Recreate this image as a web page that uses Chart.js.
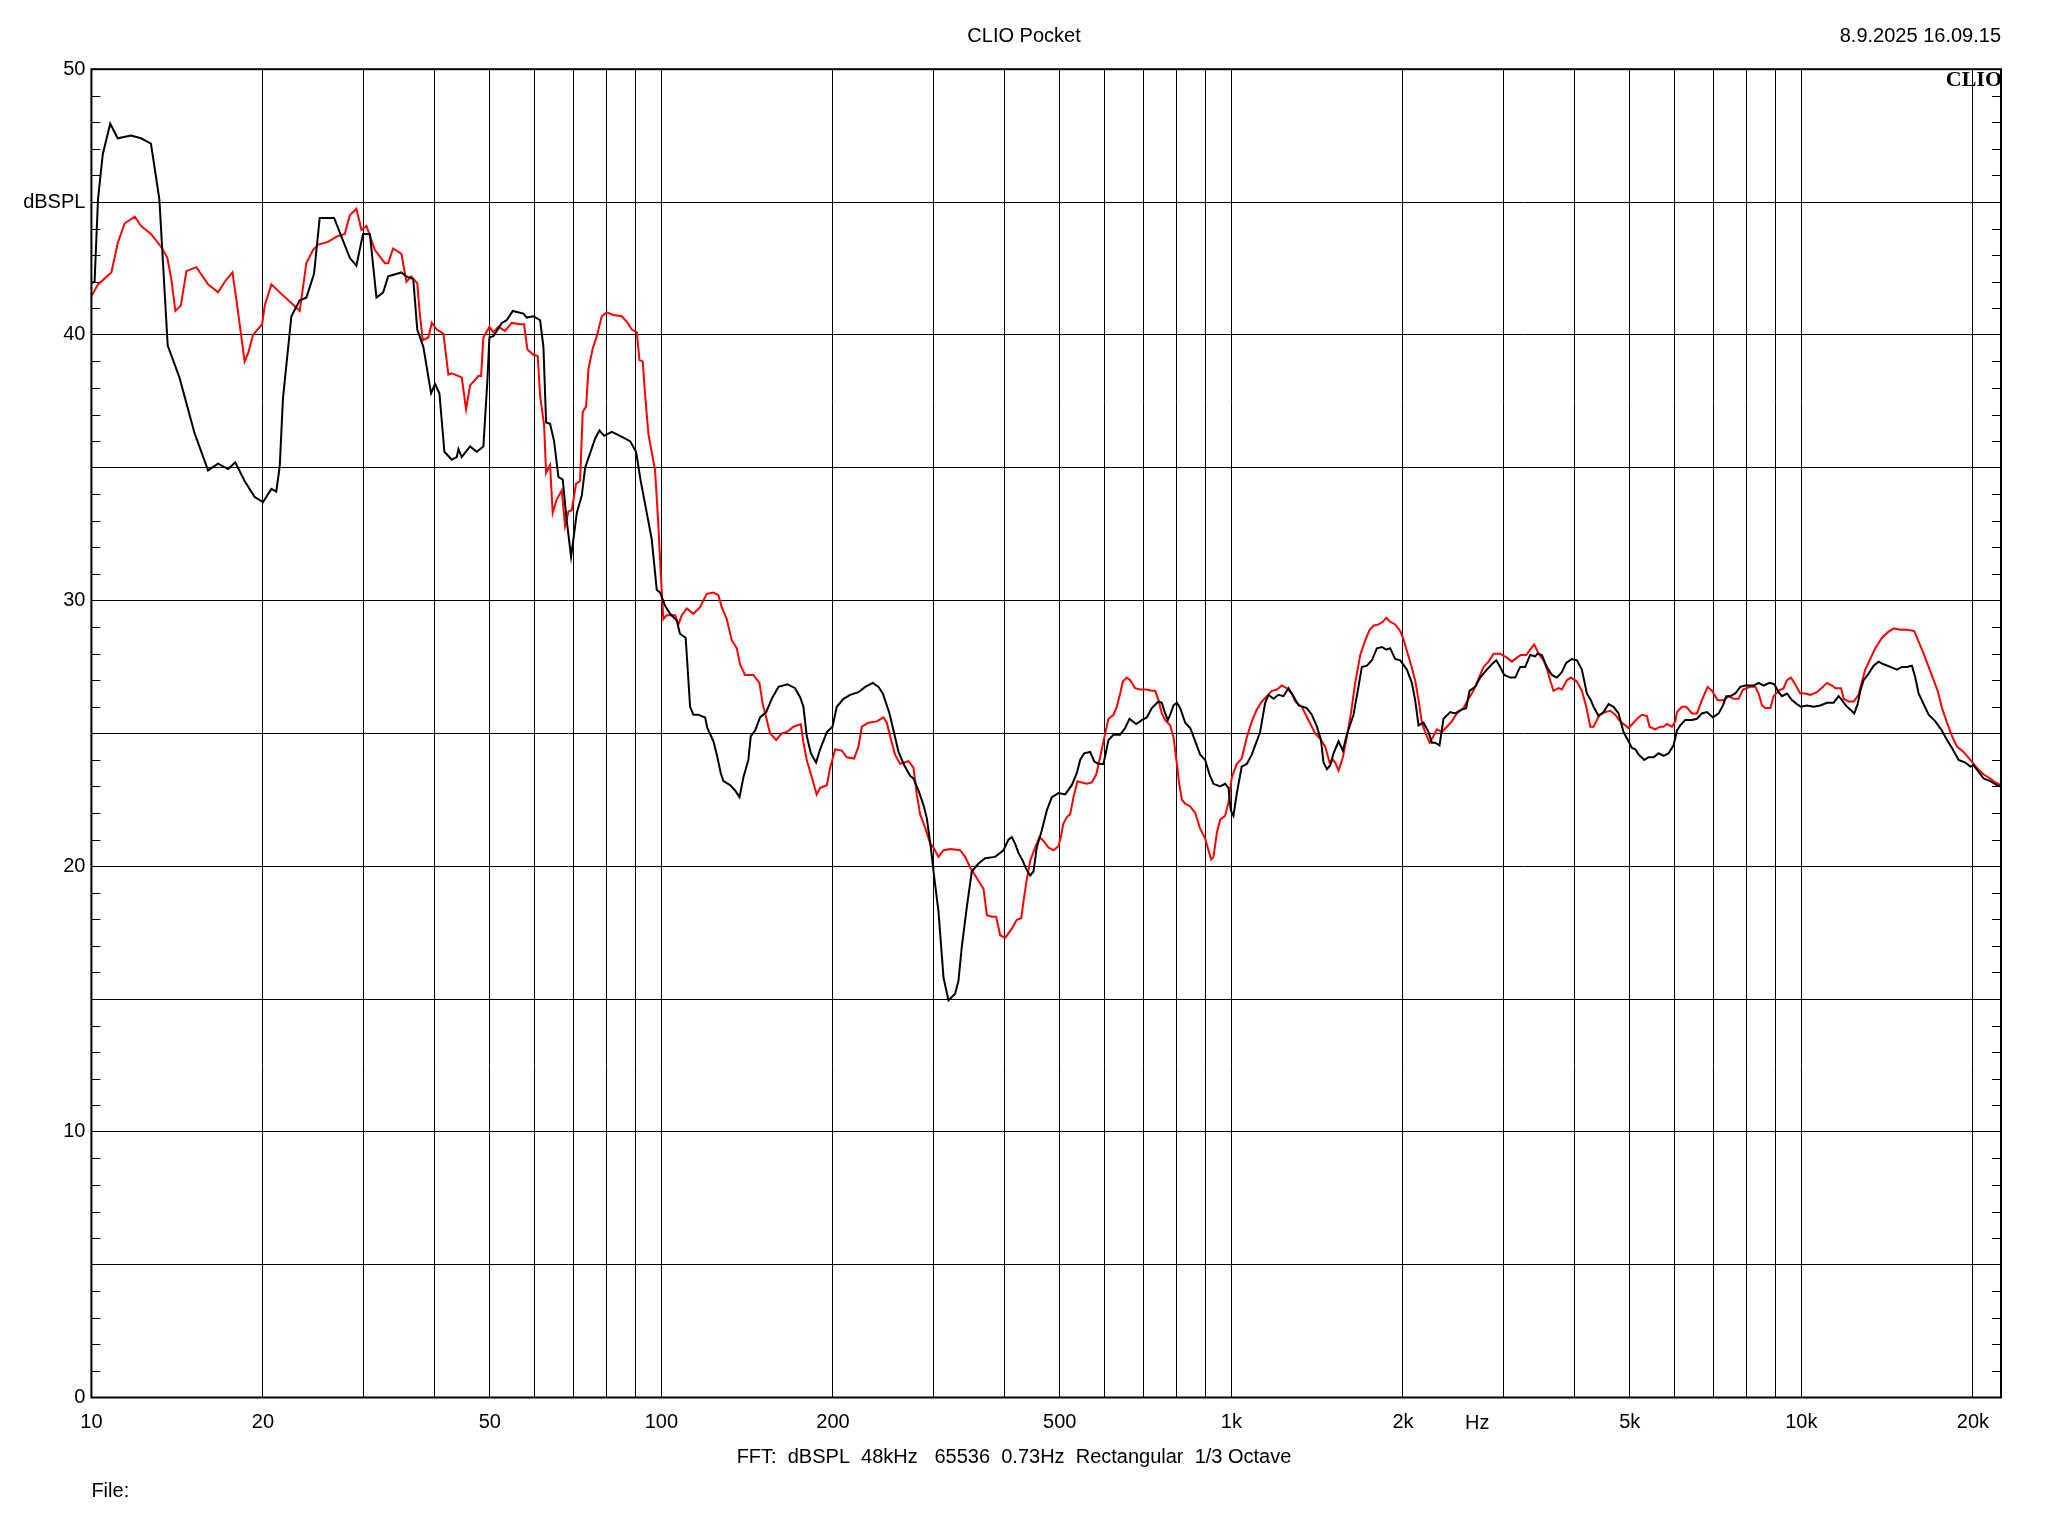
<!DOCTYPE html>
<html>
<head>
<meta charset="utf-8">
<script src="https://cdn.jsdelivr.net/npm/chart.js@4/dist/chart.umd.min.js"></script>
<style>
  html, body { margin: 0; padding: 0; background: #ffffff; }
  canvas { display: block; }
</style>
</head>
<body>
<canvas id="c" width="2048" height="1536" style="width:2048px;height:1536px"></canvas>
<script>
// ---------------- DATA ----------------
const blackHz = [10.0,10.13,10.27,10.47,10.79,11.12,11.74,12.22,12.72,13.16,13.61,14.27,15.17,16.02,16.68,17.37,17.88,18.57,19.34,20.0,20.69,21.1,21.4,21.68,22.43,23.2,23.83,24.58,25.15,26.66,27.46,28.4,29.17,29.96,30.8,31.63,32.5,33.16,34.99,35.7,36.7,37.3,38.23,39.44,40.08,40.79,41.62,42.87,43.75,44.05,44.64,46.17,47.42,48.72,49.52,49.92,50.73,52.47,53.54,54.85,57.27,58.05,59.64,61.27,62.09,62.77,63.78,64.82,65.97,67.13,68.23,69.43,70.28,71.05,72.5,73.49,74.99,76.52,77.88,79.36,81.85,84.63,88.12,90.28,91.99,94.26,96.18,98.15,99.48,101.5,103.6,106.4,107.8,110.3,111.3,112.3,113.8,116.1,119.3,120.4,123.4,125.4,127.1,128.5,132.0,134.7,137.1,139.3,142.1,143.5,146.0,149.0,152.7,156.2,160.5,166.4,171.6,175.2,177.5,179.9,182.9,186.8,189.9,195.1,199.6,203.1,208.7,214.4,221.7,227.8,234.9,240.4,244.6,251.3,256.1,260.6,266.7,273.2,276.9,282.5,288.3,292.2,297.0,301.0,306.3,312.6,318.9,327.6,332.1,336.5,343.4,350.4,360.0,369.8,385.0,398.2,406.3,411.9,417.4,423.1,430.6,436.4,443.6,449.6,455.6,465.0,474.5,484.2,497.4,511.0,524.8,535.6,542.9,551.7,565.2,574.4,584.6,596.5,608.7,621.2,638.1,651.1,662.6,680.7,696.5,710.6,725.1,744.9,755.1,765.3,773.7,781.0,791.6,802.4,813.3,829.9,846.9,864.2,881.7,899.5,915.3,930.3,955.6,975.2,988.3,997.7,1008.5,1022.3,1042.7,1064.2,1085.9,1123.1,1146.2,1161.6,1185.4,1209.6,1234.4,1259,1285,1312,1356,1384,1413,1436,1451,1471,1491,1511,1542,1569,1594,1638,1671,1694,1729,1764,1800,1837,1869,1899,1938,1978,2032,2073,2101,2130,2173,2218,2247,2278,2318,2356,2421,2470,2537,2582,2617,2678,2732,2807,2864,2915,2962,3011,3084,3147,3211,3277,3344,3412,3444,3505,3576,3649,3724,3800,3867,3957,4038,4120,4204,4273,4319,4408,4497,4589,4683,4778,4875,4975,5043,5113,5182,5302,5395,5505,5617,5732,5849,5968,6048,6130,6256,6427,6558,6692,6829,6997,7159,7285,7385,7505,7657,7813,7973,8246,8414,8586,8796,8964,9122,9246,9434,9627,9822,9983,10228,10507,10795,11089,11392,11625,11781,12022,12185,12383,12552,12688,12860,13122,13391,13662,13942,14322,14713,15014,15321,15631,15844,16059,16388,16723,17181,17650,18012,18376,18876,19392,19789,20055,20465,20884,21455,22040,22398];
const blackDb = [41.95,42.0,45.1,46.8,47.95,47.4,47.5,47.4,47.2,45.1,39.6,38.4,36.3,34.9,35.15,34.95,35.2,34.5,33.9,33.7,34.2,34.1,35.05,37.6,40.7,41.3,41.4,42.3,44.4,44.4,43.7,42.9,42.6,43.8,43.8,41.4,41.6,42.2,42.35,42.2,42.1,40.2,39.55,37.8,38.15,37.8,35.6,35.3,35.4,35.7,35.4,35.8,35.6,35.8,38.3,39.9,39.95,40.45,40.55,40.9,40.8,40.65,40.7,40.55,39.55,36.7,36.65,36.0,34.65,34.55,33.0,31.65,32.5,33.3,33.95,35.0,35.55,36.1,36.4,36.2,36.35,36.2,36.0,35.6,34.5,33.3,32.3,30.4,30.3,29.8,29.5,29.25,28.75,28.6,27.3,26.0,25.7,25.7,25.6,25.2,24.7,24.1,23.5,23.2,23.05,22.85,22.6,23.35,24.0,24.9,25.1,25.6,25.8,26.3,26.75,26.85,26.7,26.35,26.0,24.9,24.25,23.9,24.4,25.05,25.25,26.0,26.3,26.45,26.55,26.75,26.9,26.75,26.5,25.75,25.0,24.3,23.8,23.4,23.3,22.85,22.3,21.8,20.7,19.6,18.3,15.8,14.95,15.2,15.7,16.95,18.45,19.8,20.1,20.3,20.35,20.6,21.0,21.1,20.85,20.5,20.2,19.9,19.65,19.8,20.7,21.35,22.1,22.6,22.75,22.7,23.05,23.5,24.0,24.25,24.3,23.95,23.85,23.85,24.75,24.95,24.95,25.2,25.55,25.35,25.5,25.6,25.95,26.2,26.15,25.75,25.5,25.7,26.05,26.15,25.95,25.4,25.2,24.7,24.2,24.0,23.45,23.1,23.0,23.1,22.95,22.1,21.9,22.75,23.75,23.85,24.2,25.05,26.15,26.45,26.3,26.45,26.4,26.7,26.4,26.05,25.95,25.7,25.25,24.75,23.9,23.65,23.8,24.25,24.7,24.35,24.95,25.7,26.75,27.5,27.55,27.75,28.2,28.25,28.15,28.2,27.8,27.75,27.4,26.9,26.25,25.3,25.4,25.05,24.65,24.65,24.55,25.55,25.8,25.75,25.9,25.95,26.6,26.75,27.1,27.4,27.6,27.75,27.5,27.2,27.1,27.1,27.5,27.5,27.95,27.9,28.0,27.95,27.5,27.2,27.1,27.3,27.65,27.8,27.75,27.4,26.5,26.25,26.0,25.65,25.8,26.1,26.0,25.75,25.05,24.7,24.45,24.4,24.2,24.0,24.1,24.1,24.25,24.15,24.25,24.55,25.1,25.3,25.5,25.5,25.55,25.75,25.8,25.6,25.75,26.05,26.4,26.4,26.5,26.75,26.8,26.8,26.9,26.8,26.9,26.85,26.55,26.4,26.5,26.25,26.1,26.0,26.05,26.0,26.05,26.15,26.15,26.4,26.25,26.0,25.9,25.75,26.1,26.6,27.0,27.25,27.55,27.7,27.6,27.5,27.4,27.5,27.5,27.55,27.1,26.5,26.1,25.7,25.45,25.1,24.75,24.45,24.0,23.9,23.75,23.8,23.55,23.3,23.2,23.05,23.0];

const redHz = [10.0,10.27,10.84,11.12,11.44,11.92,12.22,12.72,13.27,13.59,13.81,14.04,14.35,14.68,15.28,16.02,16.68,17.14,17.68,17.97,18.28,18.57,18.83,19.21,19.93,20.14,20.69,21.4,22.43,23.2,23.83,24.49,24.99,26.02,26.91,27.83,28.4,29.17,29.77,30.38,31.42,32.72,33.16,33.83,34.99,35.7,36.4,37.3,37.62,38.13,39.01,39.54,40.35,41.45,42.3,42.87,44.64,45.43,46.17,47.75,48.27,48.72,49.92,50.73,51.76,53.17,54.62,56.49,57.43,58.19,59.64,60.68,61.27,62.26,62.77,63.78,64.47,65.52,66.86,67.76,68.7,69.62,70.85,72.0,72.78,73.78,74.47,75.8,77.03,78.61,80.2,82.39,85.21,86.95,88.72,90.53,91.52,92.75,93.63,94.91,97.48,98.81,99.75,100.8,102.2,105.7,107.1,108.6,110.8,113.8,116.9,120.1,123.4,125.9,127.6,130.2,132.9,135.6,137.4,140.2,145.0,148.6,150.6,152.7,155.1,159.0,162.6,166.0,170.5,175.6,177.5,179.9,183.6,187.3,189.9,195.1,197.7,201.8,207.3,211.5,217.8,221.7,224.7,230.8,238.8,245.3,248.6,252.6,257.0,262.3,271.4,276.9,280.6,284.4,290.2,296.2,300.2,306.3,312.6,321.1,334.3,341.2,348.1,360.0,367.4,372.4,379.9,386.6,393,401,412,420,428,432,437.6,443.6,452.6,460.6,468.1,477.6,487.4,497.4,502.0,507.4,514.4,521.3,528.4,537.0,546.5,557.7,569.0,579.2,587.0,592.5,600.6,608.7,621.2,629.5,638.1,644.9,655.4,664.4,677.9,691.7,710.6,725.1,735.1,744.9,755.1,765.3,781.0,791.6,802.4,810.0,818.8,829.9,846.9,864.2,881.7,899.5,911.7,921.5,930.3,943.0,955.6,975.2,988.3,1001.8,1022.3,1042.7,1064.2,1085.9,1108.5,1131.0,1154.1,1177.7,1201.8,1226.2,1251.2,1276.8,1294.2,1329,1365,1403,1431,1461,1487,1507,1521,1542,1569,1594,1621,1649,1683,1717,1748,1776,1812,1844,1869,1899,1938,1978,2004,2032,2065,2101,2130,2159,2188,2227,2257,2294,2341,2388,2437,2486,2554,2606,2659,2714,2769,2826,2884,2962,3043,3105,3169,3220,3291,3344,3399,3459,3530,3576,3625,3674,3750,3800,3878,3941,4038,4120,4194,4262,4319,4425,4528,4620,4714,4810,4975,5077,5180,5252,5358,5416,5541,5655,5732,5810,5929,6010,6048,6174,6283,6427,6558,6692,6847,6968,7129,7305,7454,7606,7762,7899,8136,8302,8414,8529,8645,8822,8942,9122,9310,9434,9588,9719,9956,10160,10366,10649,10911,11089,11319,11472,11739,11865,12106,12354,12604,12774,12947,13178,13481,13850,14171,14519,14916,15321,15784,16059,16388,16723,17066,17343,17650,18012,18376,18750,19262,19789,20330,20884,21455,21890,22398];
const redDb = [41.45,41.9,42.35,43.45,44.2,44.45,44.1,43.8,43.3,42.9,42.1,40.9,41.1,42.4,42.55,41.9,41.6,42.0,42.35,41.3,40.1,39.0,39.3,40.0,40.4,41.1,41.9,41.6,41.2,40.9,42.7,43.2,43.4,43.5,43.7,43.8,44.5,44.75,43.95,44.1,43.2,42.7,42.7,43.25,43.05,42.0,42.2,41.95,40.95,39.8,39.9,40.45,40.2,40.05,38.5,38.55,38.4,37.2,38.1,38.45,38.45,39.9,40.3,40.1,40.3,40.15,40.45,40.4,40.4,39.45,39.25,39.2,37.7,36.6,34.8,35.1,33.3,33.8,34.15,32.8,33.35,33.4,34.4,34.5,37.1,37.3,38.7,39.5,39.95,40.7,40.85,40.75,40.7,40.5,40.2,40.1,39.05,39.0,37.75,36.25,34.9,32.8,31.0,29.3,29.45,29.45,29.1,29.45,29.7,29.5,29.75,30.25,30.3,30.2,29.75,29.3,28.5,28.2,27.6,27.2,27.2,26.9,26.1,25.6,25.0,24.75,25.0,25.05,25.25,25.35,24.65,24.0,23.35,22.7,22.95,23.05,23.7,24.4,24.35,24.1,24.05,24.5,25.25,25.4,25.45,25.6,25.4,24.8,24.2,23.85,23.95,23.7,22.7,21.95,21.45,20.85,20.7,20.35,20.6,20.65,20.6,20.35,19.95,19.45,19.15,18.15,18.1,18.1,17.4,17.3,17.65,17.97,18.05,18.7,19.5,20.2,20.7,21.1,20.95,20.7,20.6,20.75,21.1,21.6,21.85,21.95,22.6,23.2,23.15,23.1,23.15,23.45,24.0,24.4,25.0,25.55,25.7,26.0,26.5,26.95,27.1,27.0,26.7,26.65,26.65,26.6,26.6,26.25,25.75,25.5,25.3,24.85,23.85,23.1,22.5,22.35,22.25,22.0,21.4,21.05,20.6,20.25,20.35,21.25,21.75,21.9,22.4,23.35,23.85,24.05,24.85,25.45,25.9,26.2,26.4,26.6,26.65,26.8,26.7,26.5,26.2,26.0,25.5,25.0,24.8,24.5,23.9,24.0,23.9,23.6,24.1,24.85,25.75,26.9,27.95,28.5,28.9,29.05,29.1,29.2,29.35,29.2,29.1,28.85,28.55,28.1,27.6,27.0,26.25,25.4,25.05,24.65,24.85,25.15,25.05,25.25,25.45,25.75,25.95,26.3,26.6,27.05,27.5,27.7,28.0,28.0,27.85,27.7,27.85,27.95,27.95,28.15,28.35,28.0,27.75,27.45,27.0,26.6,26.7,26.65,27.0,27.1,26.95,26.6,26.0,25.25,25.25,25.7,25.8,25.85,25.7,25.45,25.2,25.4,25.6,25.7,25.65,25.25,25.15,25.25,25.25,25.35,25.25,25.45,25.8,26.0,26.0,25.75,25.75,26.25,26.75,26.6,26.25,26.25,26.4,26.3,26.3,26.65,26.75,26.75,26.5,26.05,25.95,25.95,26.4,26.6,26.7,27.0,27.1,26.9,26.5,26.5,26.45,26.55,26.75,26.9,26.8,26.7,26.7,26.3,26.2,26.2,26.45,26.95,27.4,27.75,28.2,28.6,28.8,28.95,28.9,28.9,28.85,28.45,28.0,27.5,27.0,26.6,25.95,25.4,24.9,24.5,24.3,24.0,23.7,23.45,23.3,23.15,23.05];

const xGridTicks = [10,20,30,40,50,60,70,80,90,100,200,300,400,500,600,700,800,900,1000,2000,3000,4000,5000,6000,7000,8000,9000,10000,20000];
const xTickLabels = {10:'10',20:'20',50:'50',100:'100',200:'200',500:'500',1000:'1k',2000:'2k',5000:'5k',10000:'10k',20000:'20k'};
const yTickLabels = {0:'0',10:'10',20:'20',30:'30',40:'40',45:'dBSPL',50:'50'};
const xMin = 10, xMax = 22400, yMin = 0, yMax = 50;

const titleText = 'CLIO Pocket';
const dateText = '8.9.2025 16.09.15';
const logoText = 'CLIO';
const unitText = 'Hz';
const unitHz = 2700;
const infoText = 'FFT:  dBSPL  48kHz   65536  0.73Hz  Rectangular  1/3 Octave';
const fileText = 'File:';

// ---------------- CHART ----------------
const FONT = '"Liberation Sans", Arial, sans-serif';

const toPoints = (xs, ys) => xs.map((x, i) => ({ x: x, y: ys[i] }));

const framePlugin = {
  id: 'frame',
  beforeDraw(chart) {
    const ctx = chart.ctx;
    ctx.save();
    ctx.fillStyle = '#ffffff';
    ctx.fillRect(0, 0, chart.width, chart.height);
    ctx.restore();
  },
  afterDraw(chart) {
    const ctx = chart.ctx;
    const a = chart.chartArea;
    const ys = chart.scales.y;
    const xs = chart.scales.x;
    ctx.save();
    // minor ticks every 1 dB, inside, left and right
    ctx.strokeStyle = '#000';
    ctx.lineWidth = 1;
    ctx.beginPath();
    for (let d = yMin; d <= yMax; d++) {
      if (d % 5 === 0) continue;
      const py = Math.round(ys.getPixelForValue(d)) + 0.5;
      ctx.moveTo(a.left, py); ctx.lineTo(a.left + 9, py);
      ctx.moveTo(a.right - 9, py); ctx.lineTo(a.right, py);
    }
    ctx.stroke();
    // frame
    ctx.lineWidth = 2;
    ctx.strokeRect(a.left, a.top, a.right - a.left, a.bottom - a.top);

    // texts
    ctx.fillStyle = '#000';
    ctx.font = '20px ' + FONT;
    ctx.textBaseline = 'middle';
    ctx.textAlign = 'center';
    ctx.fillText(titleText, 1024, 36);
    ctx.textAlign = 'right';
    ctx.fillText(dateText, a.right, 36);
    ctx.textAlign = 'center';
    ctx.fillText(unitText, xs.getPixelForValue(unitHz), 1423);
    ctx.fillText(infoText, 1014, 1457);
    ctx.textAlign = 'left';
    ctx.fillText(fileText, a.left, 1491);
    // logo
    ctx.font = 'bold 22px "Liberation Serif", "Times New Roman", serif';
    ctx.textAlign = 'right';
    ctx.textBaseline = 'alphabetic';
    ctx.fillText(logoText, a.right + 1, a.top + 17);
    ctx.restore();
  }
};

new Chart(document.getElementById('c'), {
  type: 'line',
  data: {
    datasets: [
      {
        label: 'black',
        data: toPoints(blackHz, blackDb),
        borderColor: '#000000',
        borderWidth: 2,
        pointRadius: 0,
        tension: 0,
        fill: false
      },
      {
        label: 'red',
        data: toPoints(redHz, redDb),
        borderColor: '#ff0000',
        borderWidth: 2,
        pointRadius: 0,
        tension: 0,
        fill: false
      }
    ]
  },
  options: {
    responsive: false,
    devicePixelRatio: 1,
    animation: false,
    events: [],
    layout: { padding: { left: 0, right: 47, top: 69.2, bottom: 0 } },
    plugins: { legend: { display: false }, tooltip: { enabled: false }, title: { display: false } },
    scales: {
      x: {
        type: 'logarithmic',
        min: xMin,
        max: xMax,
        afterBuildTicks(scale) {
          scale.ticks = xGridTicks.map(v => ({ value: v }));
        },
        afterFit(scale) { scale.height = 1536 - 1397.5; },
        ticks: {
          autoSkip: false,
          maxRotation: 0,
          minRotation: 0,
          padding: 13,
          color: '#000',
          font: { family: FONT, size: 20 },
          callback: (v) => (xTickLabels[v] !== undefined ? xTickLabels[v] : '')
        },
        grid: { color: '#000', lineWidth: 1, drawTicks: false },
        border: { display: false }
      },
      y: {
        type: 'linear',
        min: yMin,
        max: yMax,
        afterFit(scale) { scale.width = 91.4; },
        ticks: {
          stepSize: 5,
          autoSkip: false,
          padding: 6,
          color: '#000',
          font: { family: FONT, size: 20 },
          callback: (v) => (yTickLabels[v] !== undefined ? yTickLabels[v] : '')
        },
        grid: { color: '#000', lineWidth: 1, drawTicks: false },
        border: { display: false }
      }
    }
  },
  plugins: [framePlugin]
});
</script>
</body>
</html>
